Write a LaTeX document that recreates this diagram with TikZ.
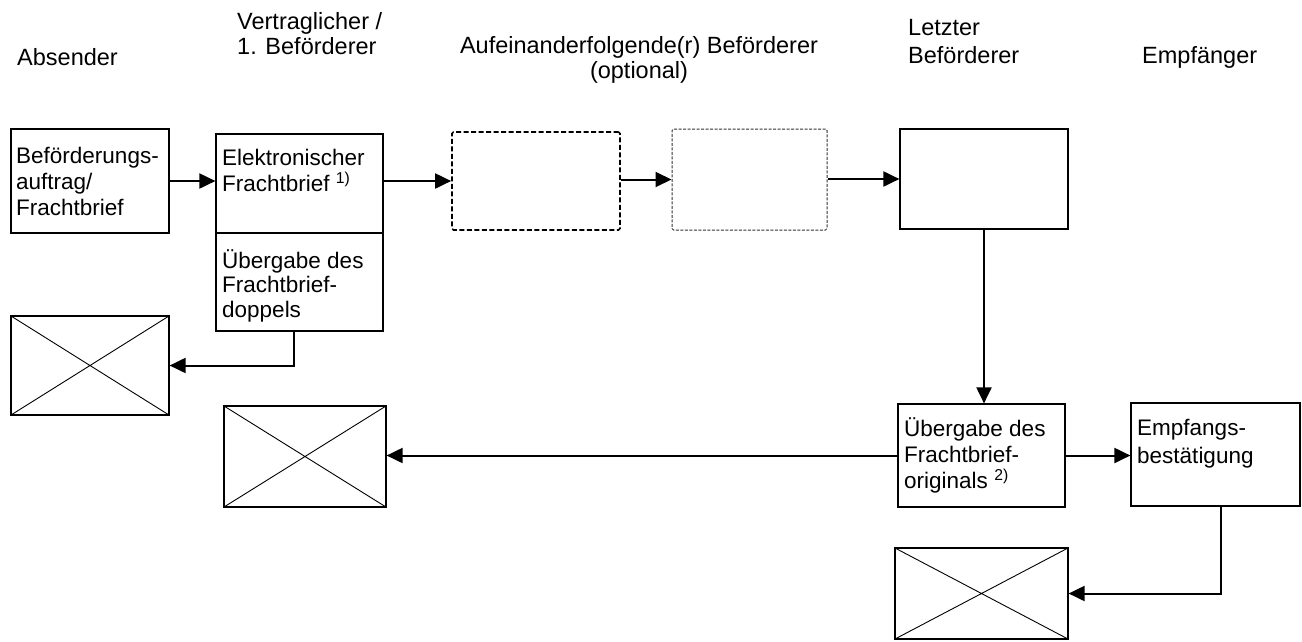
\documentclass[tikz,border=0pt]{standalone}
\usepackage{fontspec}
\setmainfont{Liberation Sans}
\usetikzlibrary{positioning,arrows.meta}

\begin{document}
\begin{tikzpicture}[
x=1pt, y=-1pt,
box/.style={draw, line width=1.2pt, inner sep=0pt},
crossbox/.style={box, path picture={
  \draw[line width=0.9pt] (path picture bounding box.north west) -- (path picture bounding box.south east)
    (path picture bounding box.south west) -- (path picture bounding box.north east);}},
optbox/.style={draw, line width=1.7pt, dash pattern=on 5pt off 2.5pt, rounded corners=1.5pt, inner sep=0pt},
optboxthin/.style={draw=black!80, line width=1pt, dash pattern=on 3pt off 1.5pt, rounded corners=1.5pt, inner sep=0pt},
txt/.style={inner sep=0pt, align=left, font=\fontsize{22.5}{26}\selectfont},
head/.style={inner sep=0pt, align=left, font=\fontsize{23.5}{24.5}\selectfont},
arr/.style={line width=2pt, -{Triangle[length=16pt,width=15pt]}}
]
\useasboundingbox (0,0) rectangle (1302,641);

% column headings (base = last line)
\node[head, anchor=base west] (absender) at (17,65) {Absender};
\node[head, anchor=base west] (vertr) at (237,54) {Vertraglicher /\\1. Beförderer};
\node[head, align=center, anchor=base] (folge) at (639,78) {Aufeinanderfolgende(r) Beförderer\\(optional)};
\node[head, anchor=base west, font=\fontsize{23.5}{28}\selectfont] (letzt) at (908,63) {Letzter\\Beförderer};
\node[head, anchor=base west] (empfaenger) at (1142,63) {Empfänger};

% boxes
\node[box, minimum width=158pt, minimum height=104pt] (auftrag) at (90,181) {};
\node[box, minimum width=167pt, minimum height=99pt] (elektro) at (299.5,183.5) {};
\node[box, minimum width=167pt, minimum height=98pt] (doppels) at (299.5,282) {};
\node[optbox, minimum width=168pt, minimum height=98pt] (opt1) at (536,181) {};
\node[optboxthin, minimum width=155pt, minimum height=101pt] (opt2) at (749.5,179.5) {};
\node[box, minimum width=168pt, minimum height=100pt] (lastbox) at (984,179) {};
\node[box, minimum width=167pt, minimum height=103pt] (orig) at (981.5,455.5) {};
\node[box, minimum width=169pt, minimum height=103pt] (empf) at (1215.5,454.5) {};
\node[crossbox, minimum width=158pt, minimum height=99pt] (cross1) at (90,365.5) {};
\node[crossbox, minimum width=162pt, minimum height=101pt] (cross2) at (305,456.5) {};
\node[crossbox, minimum width=173pt, minimum height=91pt] (cross3) at (981.5,593.5) {};

% box texts (base = last line)
\node[txt, anchor=base west] (auftragtxt) at (16,215) {Beförderungs-\\auftrag/\\Frachtbrief};
\node[txt, anchor=base west] (elektrotxt) at (222,191) {Elektronischer\\Frachtbrief \textsuperscript{1)}};
\node[txt, anchor=base west, font=\fontsize{22.5}{24.5}\selectfont] (doppelstxt) at (222,317) {Übergabe des\\Frachtbrief-\\doppels};
\node[txt, anchor=base west] (origtxt) at (904,488) {Übergabe des\\Frachtbrief-\\originals \textsuperscript{2)}};
\node[txt, anchor=base west, font=\fontsize{22.5}{28}\selectfont] (empftxt) at (1137,463) {Empfangs-\\bestätigung};

% connectors
\draw[arr] (auftrag.east) -- (auftrag.east -| elektro.west);
\draw[arr] (opt1.west -| elektro.east) -- (opt1.west);
\draw[arr] (opt2.west -| opt1.east) -- (opt2.west);
\draw[arr] (lastbox.west -| opt2.east) -- (lastbox.west);
\draw[arr] (lastbox.south) -- (lastbox.south |- orig.north);
\draw[arr] ([xshift=-6pt]doppels.south) |- (cross1.east);
\draw[arr] (orig.west) -- (orig.west -| cross2.east);
\draw[arr] (orig.east) -- (orig.east -| empf.west);
\draw[arr] ([xshift=5pt]empf.south) |- (cross3.east);
\end{tikzpicture}
\end{document}
